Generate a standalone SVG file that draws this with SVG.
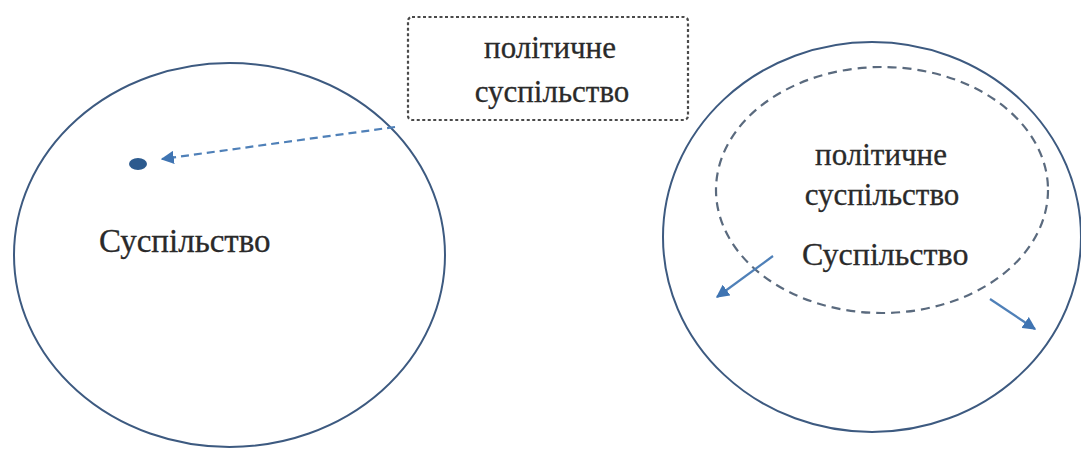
<svg xmlns="http://www.w3.org/2000/svg" width="1081" height="450" viewBox="0 0 1081 450">
  <style>
    .ring { fill: none; stroke: #3d5a80; stroke-width: 2; }
    .inner { fill: none; stroke: #5a6a7e; stroke-width: 2.2; stroke-dasharray: 9 6; }
    .box { fill: #ffffff; stroke: #4a4a4a; stroke-width: 2.2; stroke-dasharray: 3 2.5; }
    .lbl { font-family: "Liberation Serif", "Times New Roman", serif; fill: #2a2a2a; stroke: #2a2a2a; stroke-width: 0.3; }
    .sm { font-size: 31px; text-anchor: middle; }
    .lg { font-size: 33px; }
    .link { fill: none; stroke: #4f80b8; stroke-width: 2.2; }
    .dash { stroke-dasharray: 8 5; }
  </style>
  <defs>
    <marker id="tip" viewBox="0 0 10 10" refX="9" refY="5" markerWidth="6" markerHeight="6" orient="auto" markerUnits="strokeWidth">
      <path d="M0,0 L10,5 L0,10 z" fill="#3f74b2"/>
    </marker>
  </defs>

  <rect width="1081" height="450" fill="#ffffff"/>

  <!-- left: society with a small political point -->
  <g id="society-left">
    <ellipse class="ring" cx="229.5" cy="255" rx="215.5" ry="192"/>
    <text class="lbl lg" x="99" y="252">Суспільство</text>
  </g>
  <g id="political-point">
    <ellipse cx="138" cy="164" rx="9" ry="6" fill="#2c5a8e"/>
  </g>
  <g id="political-box">
    <rect class="box" x="408" y="17" width="280" height="103" rx="4"/>
    <text class="lbl sm" x="550" y="58">політичне</text>
    <text class="lbl sm" x="552" y="102">суспільство</text>
  </g>

  <!-- right: political society grown inside society -->
  <g id="society-right">
    <ellipse class="ring" cx="872" cy="237" rx="209" ry="195"/>
    <text class="lbl lg" x="802" y="265" style="font-size:32px">Суспільство</text>
  </g>
  <g id="political-inner">
    <ellipse class="inner" cx="882" cy="190" rx="166" ry="123"/>
    <text class="lbl sm" x="881" y="165">політичне</text>
    <text class="lbl sm" x="882" y="205">суспільство</text>
  </g>

  <g id="connectors">
    <path class="link dash" d="M395,127 L162,159" marker-end="url(#tip)"/>
    <path class="link" d="M773,256 L717,297" marker-end="url(#tip)"/>
    <path class="link" d="M990,299 L1035,329" marker-end="url(#tip)"/>
  </g>
</svg>
